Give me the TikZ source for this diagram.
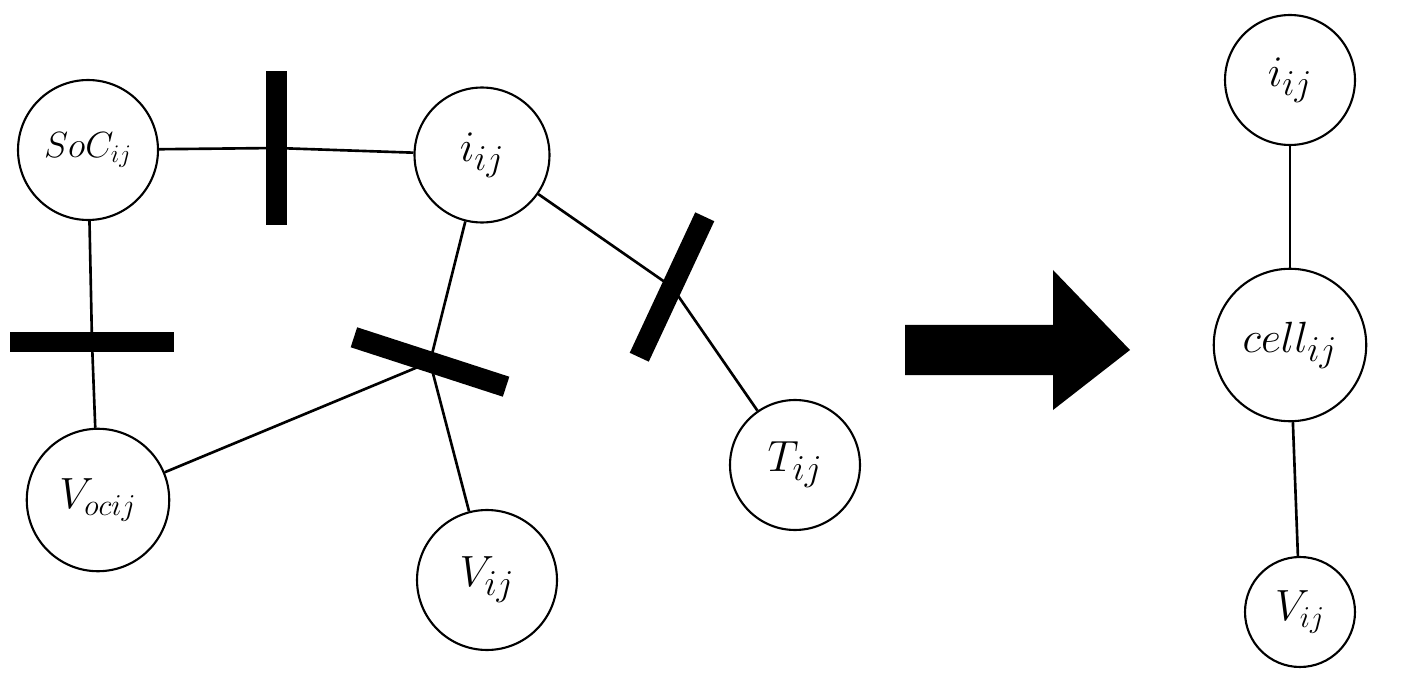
\documentclass[tikz,border=0pt]{standalone}
\usetikzlibrary{positioning}
\tikzset{
  var/.style={circle,draw=black,line width=1.2pt,fill=white,inner sep=0pt},
  bar/.style={rectangle,fill=black,inner sep=0pt,minimum width=#1,minimum height=0.42cm},
  link/.style={line width=1.5pt}
}
\newcommand{\fs}[1]{\fontsize{#1}{#1}\selectfont}
\begin{document}
\begin{tikzpicture}[x=0.02cm,y=-0.02cm]
\useasboundingbox (0,0) rectangle (1407,689);
% factor bars
\node[bar=3.1cm,rotate=90](f1) at (276,148) {};
\node[bar=3.3cm](f2) at (92,342) {};
\node[bar=3.2cm,rotate=-18](f3) at (430,362) {};
\node[bar=3.1cm,rotate=65](f4) at (672,287) {};
% variables
\node[var,minimum size=2.8cm](soc) at (88,150) {\fs{22}$SoC_{ij}$};
\node[var,minimum size=2.7cm](iij) at (482,155) {\fs{32}$i_{ij}$};
\node[var,minimum size=2.85cm](voc) at (98,500) {\fs{27}$V_{ocij}$};
\node[var,minimum size=2.8cm](vij) at (487,580) {\fs{32}$V_{ij}$};
\node[var,minimum size=2.6cm](tij) at (795,465) {\fs{32}$T_{ij}$};
\draw[link](soc) -- (f1.center) -- (iij);
\draw[link](soc) -- (f2.center) -- (voc);
\draw[link](iij) -- (f3.center) -- (voc);
\draw[link](vij) -- (f3.center);
\draw[link](iij) -- (f4.center) -- (tij);
% arrow
\coordinate (arr) at (905,350);
\fill (arr) ++(0,-25) -- ++(148,0) -- ++(0,-55) -- (1130,350) -- (1053,410) -- ++(0,-35) -- (905,375) -- cycle;
% merged
\node[var,minimum size=2.6cm](ri) at (1290,80) {\fs{32}$i_{ij}$};
\node[var,minimum size=3.05cm](cell) at (1290,345) {\fs{30}$cell_{ij}$};
\node[var,minimum size=2.2cm](rv) at (1300,612) {\fs{24}$V_{ij}$};
\draw[link](ri) -- (cell);
\draw[link](cell) -- (rv);
\end{tikzpicture}
\end{document}
